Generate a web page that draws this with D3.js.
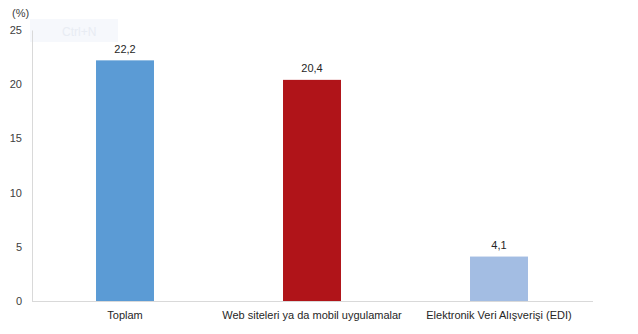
<!DOCTYPE html>
<html>
<head>
<meta charset="utf-8">
<script src="https://cdn.jsdelivr.net/npm/d3@7"></script>
<style>
  body { margin: 0; background: #fff; }
  svg text { font-family: "Liberation Sans", Arial, sans-serif; }
</style>
</head>
<body>
<svg id="chart" width="638" height="334"></svg>
<script>
const categories = ["Toplam", "Web siteleri ya da mobil uygulamalar", "Elektronik Veri Alışverişi (EDI)"];
const values = [22.2, 20.4, 4.1];
const colors = ["#5b9bd5", "#b01419", "#a3bde3"];
const yTicks = [0, 5, 10, 15, 20, 25];

const svg = d3.select("#chart");

// faint overlay box seen in the source screenshot
svg.append("rect")
   .attr("x", 30).attr("y", 19).attr("width", 88).attr("height", 23)
   .attr("fill", "#f6f8fc");
svg.append("text")
   .attr("x", 62).attr("y", 36)
   .attr("font-size", 12)
   .attr("fill", "#e8ecf3")
   .text("Ctrl+N");

const xScale = d3.scaleBand()
                 .domain(categories)
                 .range([31.5, 592.5])
                 .paddingInner(0.69)
                 .paddingOuter(0.345);

const yScale = d3.scaleLinear()
                 .domain([0, 25])
                 .range([301, 30]);

// y axis
const yAxis = svg.append("g")
   .attr("transform", "translate(32,0)")
   .call(d3.axisLeft(yScale).tickValues(yTicks).tickSize(0).tickPadding(10));
yAxis.select(".domain").attr("stroke", "#d9d9d9");
yAxis.selectAll("text").attr("font-size", 11).attr("fill", "#404040");

// x axis
const xAxis = svg.append("g")
   .attr("transform", "translate(0,301)")
   .call(d3.axisBottom(xScale).tickSize(0).tickPadding(10));
xAxis.select(".domain").attr("stroke", "#d9d9d9");
xAxis.selectAll("text").attr("font-size", 11).attr("fill", "#262626");

svg.selectAll("rect.bar")
   .data(categories)
   .enter()
   .append("rect")
   .attr("class", "bar")
   .attr("x", d => xScale(d))
   .attr("y", (d, i) => yScale(values[i]))
   .attr("width", xScale.bandwidth())
   .attr("height", (d, i) => 301 - yScale(values[i]))
   .attr("fill", (d, i) => colors[i]);

svg.selectAll("text.val")
   .data(categories)
   .enter()
   .append("text")
   .attr("class", "val")
   .attr("x", d => xScale(d) + xScale.bandwidth() / 2)
   .attr("y", (d, i) => yScale(values[i]) - 7.5)
   .attr("text-anchor", "middle")
   .attr("font-size", 11)
   .attr("fill", "#262626")
   .text((d, i) => String(values[i]).replace(".", ","));

svg.append("text")
   .attr("x", 12).attr("y", 17)
   .attr("font-size", 11)
   .attr("fill", "#404040")
   .text("(%)");
</script>
</body>
</html>
